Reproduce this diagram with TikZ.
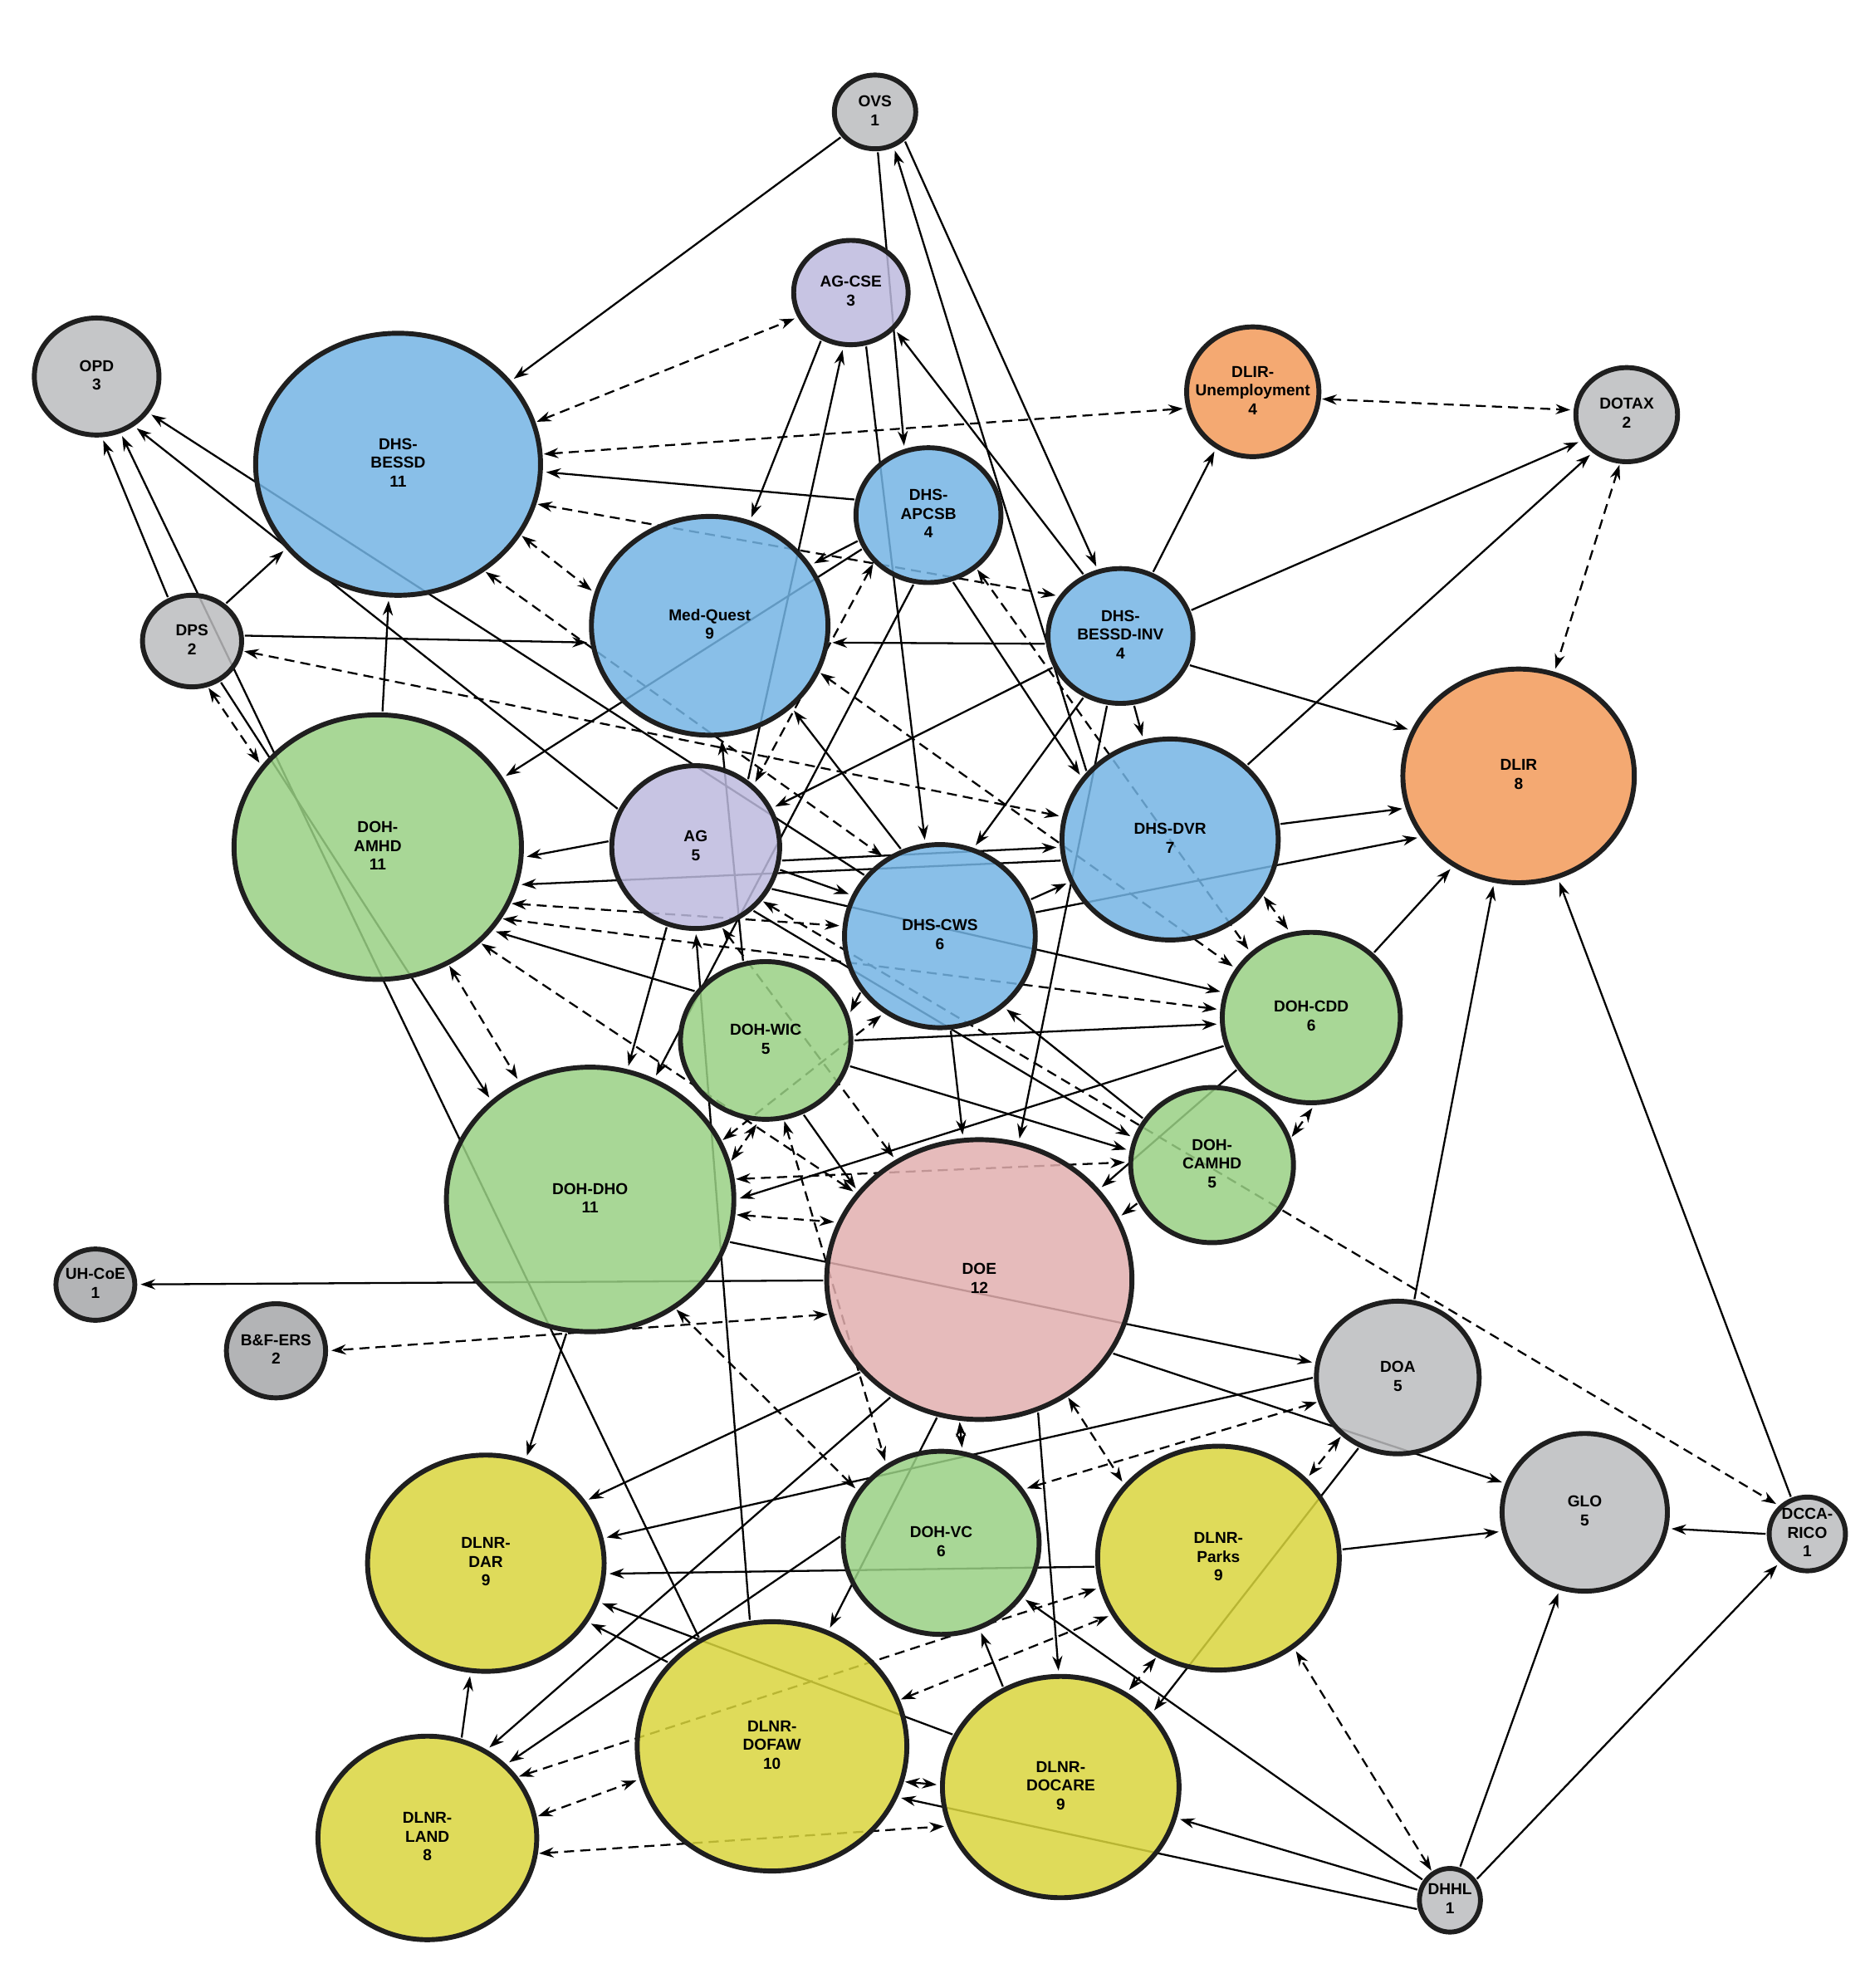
\documentclass[tikz,border=0pt]{standalone}
\usepackage{fontspec}
\newfontfamily\agencyfont{Liberation Sans}
\usetikzlibrary{arrows.meta,shapes.geometric}
\pgfdeclarelayer{links}
\pgfsetlayers{links,main}

\definecolor{govgray}{HTML}{BBBCBE}
\definecolor{govdark}{HTML}{A6A7A9}
\definecolor{dhsblue}{HTML}{74B4E4}
\definecolor{aglav}{HTML}{BDBADE}
\definecolor{dlirorange}{HTML}{F29A59}
\definecolor{dohgreen}{HTML}{99D084}
\definecolor{doepink}{HTML}{E2AFAF}
\definecolor{dlnryellow}{HTML}{D9D53D}

% centred text that does not change the size of the ellipse
\newcommand{\agencytext}[1]{\smash{\makebox[0pt]{\raisebox{-1.9pt}{\begin{tabular}{@{}c@{}}#1\end{tabular}}}}}

\begin{document}
\begin{tikzpicture}[x=0.2mm,y=-0.2mm]
\useasboundingbox (0,0) rectangle (1470,1563);

\begin{scope}[every node/.style={ellipse,draw=black!88,line width=2.2pt,inner sep=0pt,
                                 fill opacity=0.85,text opacity=1,
                                 font=\agencyfont\bfseries\fontsize{7.1}{8.4}\selectfont},
              sz/.style 2 args={minimum width=#1*0.4mm,minimum height=#2*0.4mm}]
    \node[fill=govgray,sz={32}{29}]       (ovs)    at (688,88)    {\agencytext{OVS\\1}};
    \node[fill=aglav,sz={45}{41}]         (agcse)  at (669,230)   {\agencytext{AG-CSE\\3}};
    \node[fill=govgray,sz={49}{46}]       (opd)    at (76,296)    {\agencytext{OPD\\3}};
    \node[fill=dhsblue,sz={112}{103}]     (bessd)  at (313,365)   {\agencytext{DHS-\\BESSD\\11}};
    \node[fill=dlirorange,sz={52}{51}]    (dlirU)  at (985,308)   {\agencytext{DLIR-\\Unemployment\\4}};
    \node[fill=govgray,sz={40}{37}]       (dotax)  at (1279,326)  {\agencytext{DOTAX\\2}};
    \node[fill=dhsblue,sz={57}{53}]       (apcsb)  at (730,405)   {\agencytext{DHS-\\APCSB\\4}};
    \node[fill=dhsblue,sz={93}{86}]       (medq)   at (558,492)   {\agencytext{Med-Quest\\9}};
    \node[fill=govgray,sz={39}{36}]       (dps)    at (151,504)   {\agencytext{DPS\\2}};
    \node[fill=dhsblue,sz={57}{53}]       (inv)    at (881,500)   {\agencytext{DHS-\\BESSD-INV\\4}};
    \node[fill=dlirorange,sz={91}{84}]    (dlir)   at (1194,610)  {\agencytext{DLIR\\8}};
    \node[fill=dohgreen,sz={113}{104}]    (amhd)   at (297,666)   {\agencytext{DOH-\\AMHD\\11}};
    \node[fill=aglav,sz={66}{64}]         (ag)     at (547,666)   {\agencytext{AG\\5}};
    \node[fill=dhsblue,sz={85}{79}]       (dvr)    at (920,660)   {\agencytext{DHS-DVR\\7}};
    \node[fill=dhsblue,sz={75}{72}]       (cws)    at (739,736)   {\agencytext{DHS-CWS\\6}};
    \node[fill=dohgreen,sz={70}{67}]      (cdd)    at (1031,800)  {\agencytext{DOH-CDD\\6}};
    \node[fill=dohgreen,sz={67}{62}]      (wic)    at (602,818)   {\agencytext{DOH-WIC\\5}};
    \node[fill=dohgreen,sz={64}{61}]      (camhd)  at (953,916)   {\agencytext{DOH-\\CAMHD\\5}};
    \node[fill=dohgreen,sz={113}{104}]    (dho)    at (464,943)   {\agencytext{DOH-DHO\\11}};
    \node[fill=doepink,sz={120}{110}]     (doe)    at (770,1006)  {\agencytext{DOE\\12}};
    \node[fill=govdark,sz={31}{28}]       (uhcoe)  at (75,1010)   {\agencytext{UH-CoE\\1}};
    \node[fill=govdark,sz={39}{37}]       (bfers)  at (217,1062)  {\agencytext{B\&F-ERS\\2}};
    \node[fill=govgray,sz={64}{60}]       (doa)    at (1099,1083) {\agencytext{DOA\\5}};
    \node[fill=govgray,sz={65}{62}]       (glo)    at (1246,1189) {\agencytext{GLO\\5}};
    \node[fill=govgray,sz={30}{29}]       (rico)   at (1421,1206) {\agencytext{DCCA-\\RICO\\1}};
    \node[fill=dlnryellow,sz={93}{85}]    (dar)    at (382,1229)  {\agencytext{DLNR-\\DAR\\9}};
    \node[fill=dohgreen,sz={77}{72}]      (vc)     at (740,1213)  {\agencytext{DOH-VC\\6}};
    \node[fill=dlnryellow,sz={95}{88}]    (parks)  at (958,1225)  {\agencytext{DLNR-\\Parks\\9}};
    \node[fill=dlnryellow,sz={106}{98}]   (dofaw)  at (607,1373)  {\agencytext{DLNR-\\DOFAW\\10}};
    \node[fill=dlnryellow,sz={93}{87}]    (docare) at (834,1405)  {\agencytext{DLNR-\\DOCARE\\9}};
    \node[fill=dlnryellow,sz={86}{80}]    (land)   at (336,1445)  {\agencytext{DLNR-\\LAND\\8}};
    \node[fill=govgray,sz={24}{25}]       (dhhl)   at (1140,1494) {\agencytext{DHHL\\1}};
\end{scope}

\begin{pgfonlayer}{links}
\begin{scope}[>={Stealth[length=2.3mm,width=1.6mm]},
              every edge/.style={draw,line width=0.85pt,shorten >=1.5pt,shorten <=0.5pt},
              shared/.style={dash pattern=on 4.5pt off 2.7pt,shorten <=1.5pt}]
    % one-way links
    \path [->] (ovs) edge (bessd);
    \path [->] (ovs.-86) edge (apcsb.110);
    \path [->] (ovs.-44) edge (inv.109);
    \path [->] (dvr.141) edge (ovs.-62);
    \path [->] (inv.121) edge (agcse.-40);
    \path [->] (agcse.-74) edge (cws.99);
    \path [->] (agcse.238) edge (medq.69);
    \path [->] (ag.52) edge (agcse.-98);
    \path [->] (apcsb.168) edge (bessd.-3);
    \path [->] (apcsb.200) edge (medq.31);
    \path [->] (apcsb.207) edge (amhd.29);
    \path [->] (apcsb.258) edge (dho.62);
    \path [->] (apcsb.-70) edge (dvr.145);
    \path [->] (inv.186) edge (medq.-8);
    \path [->] (inv.63) edge (dlirU.237);
    \path [->] (inv.20) edge (dotax.210);
    \path [->] (inv.-23) edge (dlir.157);
    \path [->] (inv.205) edge (ag.27);
    \path [->] (inv.-79) edge (dvr.105);
    \path [->] (inv.239) edge (cws.69);
    \path [->] (inv.259) edge (doe.74);
    \path [->] (dvr.44) edge (dotax.228);
    \path [->] (dvr.8) edge (dlir.196);
    \path [->] (dvr.191) edge (amhd.-15);
    \path [->] (cws.14) edge (dlir.212);
    \path [->] (cdd.46) edge (dlir.234);
    \path [->] (doa.78) edge (dlir.257);
    \path [->] (rico.114) edge (dlir.-69);
    \path [->] (dps.119) edge (opd.-85);
    \path [->] (dofaw.124) edge (opd.-67);
    \path [->] (ag.154) edge (opd.-53);
    \path [->] (cws.141) edge (opd.-35);
    \path [->] (dps.48) edge (bessd.217);
    \path [->] (dps.6) edge (medq.188);
    \path [->] (dps.-55) edge (dho.135);
    \path [->] (amhd.88) edge (bessd.-94);
    \path [->] (ag.176) edge (amhd.-4);
    \path [->] (wic.145) edge (amhd.-36);
    \path [->] (ag.250) edge (dho.74);
    \path [->] (dofaw.100) edge (ag.-90);
    \path [->] (wic.106) edge (medq.-84);
    \path [->] (ag.-9) edge (dvr.184);
    \path [->] (ag.-15) edge (cws.155);
    \path [->] (ag.-29) edge (cdd.164);
    \path [->] (ag.-48) edge (camhd.161);
    \path [->] (cws.22) edge (dvr.203);
    \path [->] (cws.114) edge (medq.-45);
    \path [->] (cws.215) edge (wic.17);
    \path [->] (cws) edge (doe);
    \path [->] (camhd.146) edge (cws.-48);
    \path [->] (wic.0) edge (cdd.184);
    \path [->] (wic.-17) edge (camhd.170);
    \path [->] (wic.-63) edge (doe.144);
    \path [->] (cdd.198) edge (dho.0);
    \path [->] (cdd.215) edge (doe.37);
    \path [->] (camhd.207) edge (doe.24);
    \path [->] (doe) edge (uhcoe);
    \path [->] (dho.-17) edge (doa.170);
    \path [->] (dho.-100) edge (dar.69);
    \path [->] (doe.-29) edge (glo.160);
    \path [->] (doe.218) edge (dar.32);
    \path [->] (doe.233) edge (land.56);
    \path [->] (doe.253) edge (dofaw.64);
    \path [->] (doe.-66) edge (docare.91);
    \path [->] (doa.180) edge (dar.12);
    \path [->] (doa.241) edge (docare.39);
    \path [->] (parks.184) edge (dar.-5);
    \path [->] (parks.4) edge (glo.193);
    \path [->] (docare.154) edge (dar.-19);
    \path [->] (dofaw.141) edge (dar.-30);
    \path [->] (land.71) edge (dar.-98);
    \path [->] (vc.176) edge (land.43);
    \path [->] (docare.120) edge (vc.-66);
    \path [->] (dhhl.143) edge (vc.-34);
    \path [->] (dhhl.162) edge (docare.-15);
    \path [->] (dhhl.196) edge (dofaw.-22);
    \path [->] (dhhl.73) edge (glo.-108);
    \path [->] (dhhl.38) edge (rico.226);
    \path [->] (rico.180) edge (glo.-11);
    \path [<->] (dofaw.-15) edge (docare.179);
    % shared links
    \path [<->,shared] (bessd.17) edge (agcse.205);
    \path [<->,shared] (bessd.4) edge (dlirU.194);
    \path [<->,shared] (dlirU.-6) edge (dotax.175);
    \path [<->,shared] (dotax.-98) edge (dlir.71);
    \path [<->,shared] (bessd.-16) edge (inv.147);
    \path [<->,shared] (bessd.-30) edge (medq.164);
    \path [<->,shared] (bessd.-51) edge (cws.125);
    \path [<->,shared] (dps.-11) edge (dvr.168);
    \path [<->,shared] (dps.-71) edge (amhd.145);
    \path [<->,shared] (apcsb.221) edge (ag.47);
    \path [<->,shared] (apcsb.-48) edge (cdd.133);
    \path [<->,shared] (medq.-23) edge (cdd.147);
    \path [<->,shared] (amhd.-23) edge (cws.174);
    \path [<->,shared] (amhd.-30) edge (cdd.175);
    \path [<->,shared] (amhd.-43) edge (doe.145);
    \path [<->,shared] (amhd) edge (dho);
    \path [<->,shared] (dvr.-31) edge (cdd.104);
    \path [<->,shared] (camhd.19) edge (cdd.-88);
    \path [<->,shared] (ag.-39) edge (rico.135);
    \path [<->,shared] (ag.-72) edge (doe.125);
    \path [<->,shared] (dho.-6) edge (doe.158);
    \path [<->,shared] (dho.8) edge (camhd.178);
    \path [<->,shared] (dho.15) edge (wic.-95);
    \path [<->,shared] (dho.24) edge (cws.-126);
    \path [<->,shared] (dho.-52) edge (vc.148);
    \path [<->,shared] (wic.-77) edge (vc.125);
    \path [<->,shared] (doe.193) edge (bfers.0);
    \path [<->,shared] (doe.-98) edge (vc.77);
    \path [<->,shared] (doe.-53) edge (parks.142);
    \path [<->,shared] (doa.197) edge (vc.33);
    \path [<->,shared] (doa.226) edge (parks.42);
    \path [<->,shared] (dhhl.122) edge (parks.-50);
    \path [<->,shared] (parks.238) edge (docare.55);
    \path [<->,shared] (dofaw.20) edge (parks.208);
    \path [<->,shared] (land.34) edge (parks.194);
    \path [<->,shared] (land.11) edge (dofaw.194);
    \path [<->,shared] (land.-8) edge (docare.199);
\end{scope}
\end{pgfonlayer}
\end{tikzpicture}
\end{document}
